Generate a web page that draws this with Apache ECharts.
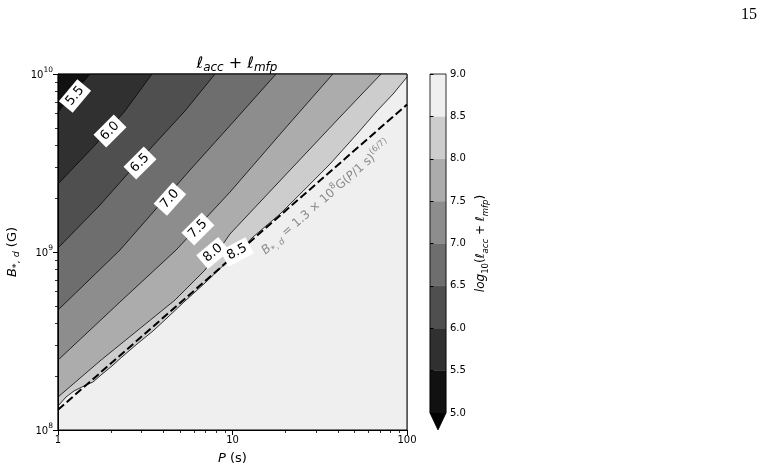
<!DOCTYPE html>
<html><head><meta charset="utf-8">
<script src="https://cdn.jsdelivr.net/npm/echarts@6/dist/echarts.min.js"></script>
<style>html,body{margin:0;padding:0;background:#fff}#c{width:768px;height:472px}</style>
</head><body><div id="c"></div>
<script>
// ---- data ----
const levels = [5.0, 5.5, 6.0, 6.5, 7.0, 7.5, 8.0, 8.5, 9.0];
const levelColors = ['#111111', '#303030', '#4f4f4f', '#6e6e6e', '#8d8d8d', '#acacac', '#cdcdcd', '#efefef'];
const extendColor = '#000000';
const xMinorTicks = [2, 3, 4, 5, 6, 7, 8, 9, 20, 30, 40, 50, 60, 70, 80, 90];
const yMinorTicks = [2e8, 3e8, 4e8, 5e8, 6e8, 7e8, 8e8, 9e8, 2e9, 3e9, 4e9, 5e9, 6e9, 7e9, 8e9, 9e9];
// contour lines, points [P (s), B (G)]
const c55 = [[1.525, 1e10], [1, 6.12e9]];
const c60 = [[3.456, 1e10], [2.42, 6.2e9], [1.651, 4.04e9], [1, 2.41e9]];
const c65 = [[7.94, 1e10], [5.34, 6.2e9], [2.95, 3.29e9], [1.741, 1.837e9], [1, 1.053e9]];
const c70 = [[17.76, 1e10], [10.33, 5.51e9], [5.71, 2.89e9], [2.266, 1.026e9], [1, 4.72e8]];
const c75 = [[37.6, 1e10], [19.2, 4.72e9], [9.67, 2.17e9], [4.75, 1.026e9], [2.266, 5.24e8], [1, 2.47e8]];
const c80 = [[71.0, 1e10], [41.3, 5.73e9], [21.4, 2.89e9], [9.67, 1.262e9], [6.96, 7.92e8], [4.68, 5.37e8], [1.764, 2.47e8], [1, 1.532e8]];
const c85 = [[100, 9.62e9], [83.2, 7.72e9], [67.3, 6.2e9], [51.7, 4.6e9], [36.2, 3.12e9], [25.4, 2.2e9], [18.72, 1.635e9],
  [13.11, 1.214e9], [9.67, 9.13e8], [6.96, 6.7e8], [5.34, 5.3e8], [4.27, 4.31e8], [3.503, 3.6e8], [2.836, 3.04e8],
  [2.358, 2.604e8], [2.04, 2.29e8], [1.764, 2.037e8], [1.587, 1.861e8], [1.409, 1.767e8], [1.235, 1.657e8],
  [1.111, 1.532e8], [1, 1.364e8]];
const contours = [c55, c60, c65, c70, c75, c80, c85];
// dashed relation B = 1.3e8 G (P/1s)^(6/7), end points
const dashLine = [[1, 1.3e8], [100, 6.74e9]];
// contour labels
const labelText = ['5.5', '6.0', '6.5', '7.0', '7.5', '8.0', '8.5'];
const labelP = [1.251, 1.986, 2.95, 4.38, 6.34, 7.73, 10.61];
const labelB = [7.52e9, 4.78e9, 3.16e9, 1.985e9, 1.346e9, 9.87e8, 1.0e9];
const labelAngle = [50, 45, 45, 48, 45, 40, 28];
// annotation position
const annot = [35.3, 1.96e9];

// ---- chart ----
const FF = 'DejaVu Sans';
const chart = echarts.init(document.getElementById('c'));

const bandData = levelColors.map((c, i) => ({ value: [1, 1e8], name: String(levels[i]) }));
const cbData = levels.slice(0, 8).map(l => [0, l]).concat([[0, levels[0]]]);

const series = [];
series.push({
  type: 'custom', xAxisIndex: 0, yAxisIndex: 0, z: 1, clip: false, silent: true,
  data: bandData,
  renderItem: function (params, api) {
    const i = params.dataIndex;
    let pts;
    if (i === 0) {
      pts = [[1, 1e10], [100, 1e10], [100, 1e8], [1, 1e8]];
    } else {
      const line = contours[i - 1];
      pts = line.slice();
      pts.push([1, 1e8], [100, 1e8]);
      if (line[0][1] >= 1e10 && line[0][0] < 100) pts.push([100, 1e10]);
    }
    return { type: 'polygon', shape: { points: pts.map(p => api.coord(p)) },
      style: { fill: levelColors[i], stroke: levelColors[i], lineWidth: 0.5 } };
  }
});
contours.forEach(c => series.push({
  type: 'line', xAxisIndex: 0, yAxisIndex: 0, data: c, symbol: 'none', silent: true, z: 3,
  lineStyle: { color: '#000', width: 0.8 }
}));
series.push({
  type: 'line', xAxisIndex: 0, yAxisIndex: 0, data: dashLine, symbol: 'none', silent: true, z: 4,
  lineStyle: { color: '#000', width: 2, type: [8, 3.5] }
});
series.push({
  type: 'scatter', xAxisIndex: 0, yAxisIndex: 0, symbolSize: 0, silent: true, z: 6,
  itemStyle: { opacity: 1 },
  data: labelText.map((t, i) => ({ value: [labelP[i], labelB[i]], name: t,
    label: { rotate: labelAngle[i] } })),
  label: { show: true, position: 'inside', formatter: p => p.name, color: '#000', fontFamily: FF, fontSize: 13,
    backgroundColor: '#ffffff', opacity: 1, padding: [3, 4, 2, 4] }
});
const sm = { fontFamily: FF, color: '#8a8a8a' };
series.push({
  type: 'scatter', xAxisIndex: 0, yAxisIndex: 0, symbolSize: 0, silent: true, z: 6,
  itemStyle: { opacity: 1 },
  data: [{ value: annot }],
  label: { show: true, position: 'inside', rotate: 41, opacity: 1,
    formatter: '{i|B}{sub|*, }{subi|d}{n| = 1.3 × 10}{sup|8}{n|G(}{i|P}{n|/1 s)}{sup|(6/7)}',
    rich: {
      i: Object.assign({ fontSize: 12, fontStyle: 'italic', lineHeight: 14, padding: [0, 0, 4, 0], verticalAlign: 'bottom' }, sm),
      n: Object.assign({ fontSize: 12, lineHeight: 14, padding: [0, 0, 4, 0], verticalAlign: 'bottom' }, sm),
      sub: Object.assign({ fontSize: 8.5, lineHeight: 10, padding: [0, 0, 1, 0], verticalAlign: 'bottom' }, sm),
      subi: Object.assign({ fontSize: 8.5, fontStyle: 'italic', lineHeight: 10, padding: [0, 0, 1, 0], verticalAlign: 'bottom' }, sm),
      sup: Object.assign({ fontSize: 8.5, lineHeight: 10, padding: [0, 0, 10, 0], verticalAlign: 'bottom' }, sm)
    } }
});
// colorbar
series.push({
  type: 'custom', xAxisIndex: 1, yAxisIndex: 1, clip: false, silent: true, z: 2,
  data: cbData,
  renderItem: function (params, api) {
    const i = params.dataIndex;
    if (i < 8) {
      const p0 = api.coord([0, levels[i]]), p1 = api.coord([1, levels[i + 1]]);
      return { type: 'rect', shape: { x: p0[0], y: p1[1], width: p1[0] - p0[0], height: p0[1] - p1[1] },
        style: { fill: levelColors[i], stroke: levelColors[i], lineWidth: 0.5 } };
    }
    const bl = api.coord([0, levels[0]]), br = api.coord([1, levels[0]]);
    const tl = api.coord([0, levels[8]]), tr = api.coord([1, levels[8]]);
    const ext = (bl[1] - tl[1]) * 0.05;
    const tip = [(bl[0] + br[0]) / 2, bl[1] + ext];
    return { type: 'group', children: [
      { type: 'polygon', shape: { points: [bl, br, tip] }, style: { fill: extendColor } },
      { type: 'polygon', shape: { points: [tl, tr, br, tip, bl] }, style: { fill: 'none', stroke: '#000', lineWidth: 0.8 } }
    ] };
  }
});

const tickLabel = { fontFamily: FF, fontSize: 10, color: '#000' };
const option = {
  animation: false,
  backgroundColor: '#fff',
  title: {
    text: '{l|ℓ}{s|acc}{n| + }{l|ℓ}{s|mfp}', left: 232, top: 53, textAlign: 'center',
    textStyle: { fontWeight: 'normal', rich: {
      l: { fontFamily: FF, fontSize: 16, fontStyle: 'italic', fontWeight: 'normal', color: '#000', lineHeight: 18, padding: [0, 0, 4, 0], verticalAlign: 'bottom' },
      n: { fontFamily: FF, fontSize: 16, fontWeight: 'normal', color: '#000', lineHeight: 18, padding: [0, 0, 4, 0], verticalAlign: 'bottom' },
      s: { fontFamily: FF, fontSize: 12, fontStyle: 'italic', fontWeight: 'normal', color: '#000', lineHeight: 13, padding: [0, 0, 2, 0], verticalAlign: 'bottom' }
    } }
  },
  graphic: [{ type: 'text', right: 11, top: 7, style: { text: '15', fontFamily: 'Liberation Serif', fontSize: 16, fill: '#000' } }],
  grid: [
    { left: 58, top: 74, width: 349, height: 356, show: true, borderColor: '#000', borderWidth: 1, backgroundColor: 'transparent', z: 10 },
    { left: 430, top: 74, width: 16, height: 339, show: false }
  ],
  xAxis: [
    { gridIndex: 0, type: 'log', logBase: 10, min: 1, max: 100, position: 'bottom', z: 10,
      axisLine: { show: true, lineStyle: { color: '#000', width: 1 } },
      axisTick: { show: true, inside: false, length: 5, lineStyle: { color: '#000', width: 1 } },
      axisLabel: Object.assign({ margin: 5, formatter: v => String(Math.round(v)) }, tickLabel),
      splitLine: { show: false }, minorTick: { show: false },
      name: '{i|P}{n| (s)}', nameLocation: 'middle', nameGap: 22,
      nameTextStyle: { rich: {
        i: { fontFamily: FF, fontSize: 13, fontStyle: 'italic', color: '#000' },
        n: { fontFamily: FF, fontSize: 13, color: '#000' } } } },
    { gridIndex: 1, type: 'value', min: 0, max: 1, show: false }
  ],
  yAxis: [
    { gridIndex: 0, type: 'log', logBase: 10, min: 1e8, max: 1e10, position: 'left', z: 10,
      axisLine: { show: true, lineStyle: { color: '#000', width: 1 } },
      axisTick: { show: true, inside: false, length: 5, lineStyle: { color: '#000', width: 1 } },
      axisLabel: Object.assign({ margin: 5,
        formatter: v => '{b|10}{e|' + Math.round(Math.log10(v)) + '}',
        rich: {
          b: { fontFamily: FF, fontSize: 10, color: '#000', lineHeight: 12, padding: [0, 0, 0, 0], verticalAlign: 'bottom' },
          e: { fontFamily: FF, fontSize: 7.5, color: '#000', lineHeight: 9, padding: [0, 0, 6, 0], verticalAlign: 'bottom' } } }, tickLabel),
      splitLine: { show: false }, minorTick: { show: false },
      name: '{i|B}{s|*, }{si|d}{n| (G)}', nameLocation: 'middle', nameGap: 36, nameRotate: 90,
      nameTextStyle: { rich: {
        i: { fontFamily: FF, fontSize: 13, fontStyle: 'italic', color: '#000', lineHeight: 15, padding: [0, 0, 3, 0], verticalAlign: 'bottom' },
        n: { fontFamily: FF, fontSize: 13, color: '#000', lineHeight: 15, padding: [0, 0, 3, 0], verticalAlign: 'bottom' },
        s: { fontFamily: FF, fontSize: 9.5, color: '#000', lineHeight: 11, padding: [0, 0, 0, 0], verticalAlign: 'bottom' },
        si: { fontFamily: FF, fontSize: 9.5, fontStyle: 'italic', color: '#000', lineHeight: 11, padding: [0, 0, 0, 0], verticalAlign: 'bottom' } } } },
    { gridIndex: 1, type: 'value', min: 5, max: 9, interval: 0.5, position: 'right', z: 10,
      axisLine: { show: false },
      axisTick: { show: true, inside: false, length: 3.5, lineStyle: { color: '#000', width: 1 } },
      axisLabel: Object.assign({ margin: 4, formatter: v => v.toFixed(1) }, tickLabel),
      splitLine: { show: false },
      name: '{i|log}{s|10}{n|(}{i|ℓ}{si|acc}{n| + }{i|ℓ}{si|mfp}{n|)}', nameLocation: 'middle', nameGap: 30, nameRotate: 90,
      nameTextStyle: { rich: {
        i: { fontFamily: FF, fontSize: 12, fontStyle: 'italic', color: '#000', lineHeight: 14, padding: [0, 0, 3, 0], verticalAlign: 'bottom' },
        n: { fontFamily: FF, fontSize: 12, color: '#000', lineHeight: 14, padding: [0, 0, 3, 0], verticalAlign: 'bottom' },
        s: { fontFamily: FF, fontSize: 8.5, color: '#000', lineHeight: 10, padding: [0, 0, 0, 0], verticalAlign: 'bottom' },
        si: { fontFamily: FF, fontSize: 8.5, fontStyle: 'italic', color: '#000', lineHeight: 10, padding: [0, 0, 0, 0], verticalAlign: 'bottom' } } } }
  ],
  series: series
};
chart.setOption(option);

// minor ticks: placed with the chart's own axis conversion
const mt = [];
xMinorTicks.forEach(v => {
  const p = chart.convertToPixel({ gridIndex: 0 }, [v, 1e8]);
  mt.push({ type: 'line', silent: true, z: 50, shape: { x1: Math.round(p[0]) + 0.5, y1: p[1], x2: Math.round(p[0]) + 0.5, y2: p[1] + 3 }, style: { stroke: '#000', lineWidth: 0.8 } });
});
yMinorTicks.forEach(v => {
  const p = chart.convertToPixel({ gridIndex: 0 }, [1, v]);
  mt.push({ type: 'line', silent: true, z: 50, shape: { x1: p[0], y1: Math.round(p[1]) + 0.5, x2: p[0] - 3, y2: Math.round(p[1]) + 0.5 }, style: { stroke: '#000', lineWidth: 0.8 } });
});
chart.setOption({ graphic: option.graphic.concat(mt) });
</script></body></html>
